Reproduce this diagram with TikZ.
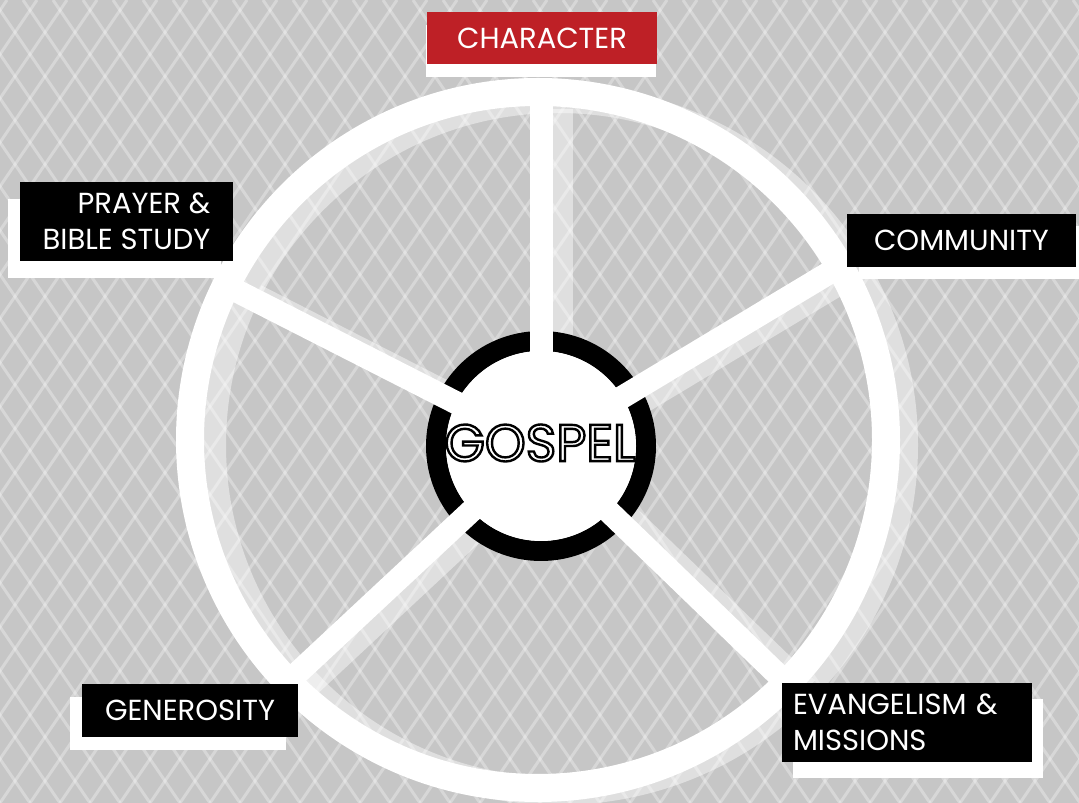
\documentclass[tikz,border=0pt]{standalone}
\usepackage{fontspec}
\setmainfont{Poppins}
\usetikzlibrary{shadows}

\definecolor{bggray}{RGB}{198,198,198}
\definecolor{charred}{RGB}{190,32,38}
% hollow letters: stroke the glyph outlines only
\newcommand{\hollowtext}[1]{\special{pdf:literal direct 1 Tr 2.4 w}#1\special{pdf:literal direct 0 Tr 1 w}}

\tikzset{
	areabox/.style={fill=black, text=white, inner sep=0pt, font=\fontsize{29}{36}\selectfont},
	backing/.style n args={2}{general shadow={fill=white, shadow xshift=#1, shadow yshift=#2}},
	rimline/.style={line width=28},
	spoke/.style={line width=23},
}

\begin{document}
\begin{tikzpicture}[x=1pt,y=1pt]
		\useasboundingbox (0,0) rectangle (1079,803);
		\fill[bggray] (0,0) rectangle (1079,803);
		\begin{scope}
			\clip (0,0) rectangle (1079,803);
			\foreach \k in {-19,...,55} {
				\draw[white, opacity=.3, line width=3] (\k*30,0) -- ++(547,803);
				\draw[white, opacity=.3, line width=3] (\k*30,0) -- ++(-547,803);
			}
		\end{scope}

		\coordinate (hub) at (541,357);
		\coordinate (rim) at (538,363);
		\coordinate (ghosthub) at (561,352);
		\coordinate (ghostrim) at (558,358);

		% faded copy of the wheel
		\begin{scope}[white, opacity=.45]
			\draw[rimline] (ghostrim) circle (346);
			\foreach \a in {90,31,-44,-137,153}
				\draw[spoke] (ghosthub) -- ++(\a:342);
		\end{scope}

		\draw[line width=20] (hub) circle (105);
		\draw[white, rimline] (rim) circle (348);
		\foreach \a in {90,31,-44,-137,153}
			\draw[white, spoke] (hub) -- ++(\a:345);
		\fill[white] (hub) circle (95);
		\node (gospel) at (540,360) {\fontsize{52}{52}\selectfont\hollowtext{GOSPEL}};

		\node[areabox, fill=charred, minimum width=230, minimum height=52, backing={-1pt}{-13pt}] (character) at (542,765) {CHARACTER};
		\node[areabox, minimum width=213, minimum height=79, align=right, backing={-12pt}{-17pt}] (prayer) at (126.5,581.5) {PRAYER \&\\BIBLE STUDY};
		\node[areabox, minimum width=229, minimum height=53, backing={12pt}{-12pt}] (community) at (961.5,562.5) {COMMUNITY};
		\node[areabox, minimum width=216, minimum height=53, backing={-12pt}{-13pt}] (generosity) at (190,92.5) {GENEROSITY};
		\node[areabox, inner xsep=11, text width=228, minimum height=79, align=left, backing={11pt}{-16pt}] (evangelism) at (907,80.5) {EVANGELISM \&\\MISSIONS};
\end{tikzpicture}
\end{document}
